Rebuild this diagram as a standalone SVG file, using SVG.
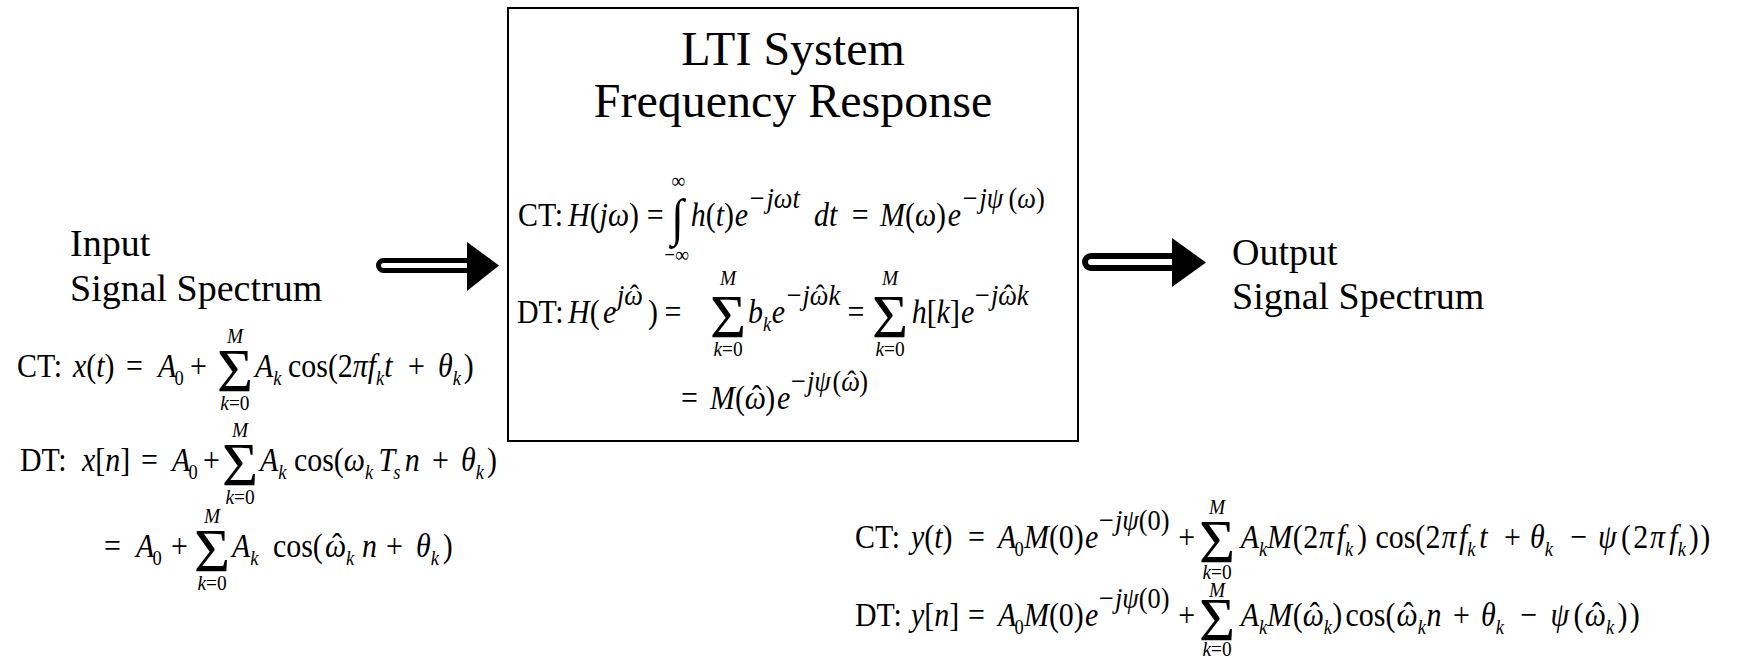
<svg xmlns="http://www.w3.org/2000/svg" width="1752" height="662" viewBox="0 0 1752 662">
<style>
text { font-family: "Liberation Serif", "Times New Roman", "DejaVu Serif", serif; fill: #000; }
.lbl { font-size: 38px; }
.ttl { font-size: 48px; text-anchor: middle; }
.eq { font-size: 34px; }
.i { font-style: italic; }
.s { font-size: 21px; }
.e { font-size: 30px; }
.sg { font-size: 62px; text-anchor: middle; }
.lim { font-size: 22px; text-anchor: middle; }
.int { font-size: 52px; text-anchor: middle; }
.hat { text-anchor: middle; }
.shaft { fill: #fff; stroke: #000; }
.head { fill: #000; }
</style>
<rect width="1752" height="662" fill="#fff"/>

<g id="connectors">
  <rect class="shaft" x="378.5" y="260.5" width="95" height="10" rx="5" stroke-width="5"/>
  <polygon class="head" points="467,242 499,265.5 467,291"/>
  <rect class="shaft" x="1085" y="256" width="95" height="12" rx="6" stroke-width="6"/>
  <polygon class="head" points="1172,238 1206,262.5 1172,287"/>
</g>

<g id="input">
  <text class="lbl" x="70" y="256">Input</text>
  <text class="lbl" x="70" y="301">Signal Spectrum</text>
  <g transform="scale(0.88 1)">
    <text class="eq" y="377"><tspan x="19.3" y="377">CT:</tspan><tspan x="83" y="377" class="i">x</tspan>(<tspan class="i">t</tspan>)<tspan x="143.2" y="377">=</tspan><tspan x="179.5" y="377" class="i">A</tspan><tspan class="s" dx="-2" dy="8">0</tspan><tspan x="215.9" y="377">+</tspan><tspan x="289.8" y="377" class="i">A</tspan><tspan class="s i" dy="8">k</tspan><tspan x="327.3" y="377">cos(2</tspan><tspan class="i">πf</tspan><tspan class="s i" dy="8">k</tspan><tspan class="i" dy="-8">t</tspan><tspan x="463.6" y="377">+</tspan><tspan x="497.7" y="377" class="i">θ</tspan><tspan class="s i" dy="8">k</tspan><tspan x="527" y="377">)</tspan></text>
    <text class="lim i" x="267" y="343">M</text>
    <text class="lim" x="267" y="410"><tspan class="i">k</tspan>=0</text>

    <text class="eq" y="471"><tspan x="22.7" y="471">DT:</tspan><tspan x="93.2" y="471" class="i">x</tspan>[<tspan class="i">n</tspan>]<tspan x="160.2" y="471">=</tspan><tspan x="195.5" y="471" class="i">A</tspan><tspan class="s" dx="-2" dy="8">0</tspan><tspan x="230.7" y="471">+</tspan><tspan x="295.5" y="471" class="i">A</tspan><tspan class="s i" dy="8">k</tspan><tspan x="334.1" y="471">cos(</tspan><tspan class="i">ω</tspan><tspan class="s i" dy="8">k</tspan><tspan x="430" y="471" class="i">T</tspan><tspan class="s i" dx="-2" dy="8">s</tspan><tspan x="460" y="471" class="i">n</tspan><tspan x="490.9" y="471">+</tspan><tspan x="523.9" y="471" class="i">θ</tspan><tspan class="s i" dy="8">k</tspan><tspan x="553.4" y="471">)</tspan></text>
    <text class="lim i" x="272.7" y="437">M</text>
    <text class="lim" x="272.7" y="504"><tspan class="i">k</tspan>=0</text>

    <text class="eq" y="557"><tspan x="118.2" y="557">=</tspan><tspan x="154.5" y="557" class="i">A</tspan><tspan class="s" dx="-2" dy="8">0</tspan><tspan x="194.3" y="557">+</tspan><tspan x="263.6" y="557" class="i">A</tspan><tspan class="s i" dy="8">k</tspan><tspan x="310.2" y="557">cos(</tspan><tspan x="369.3" y="557" class="i">ω</tspan><tspan class="s i" dy="8">k</tspan><tspan x="411.4" y="557" class="i">n</tspan><tspan x="438.6" y="557">+</tspan><tspan x="472.7" y="557" class="i">θ</tspan><tspan class="s i" dy="8">k</tspan><tspan x="503" y="557">)</tspan></text>
    <text class="eq hat" x="383" y="557">ˆ</text>
    <text class="lim i" x="240.9" y="523">M</text>
    <text class="lim" x="240.9" y="590"><tspan class="i">k</tspan>=0</text>
  </g>
  <text class="sg" x="235" y="391">Σ</text>
  <text class="sg" x="240" y="485">Σ</text>
  <text class="sg" x="212" y="571">Σ</text>
</g>

<g id="system">
  <rect x="508" y="8" width="570" height="433" fill="#fff" stroke="#000" stroke-width="2"/>
  <text class="ttl" x="793" y="65">LTI System</text>
  <text class="ttl" x="793" y="117">Frequency Response</text>
  <g transform="scale(0.88 1)">
    <text class="eq" y="226"><tspan x="588.6" y="226">CT:</tspan><tspan x="645.5" y="226" class="i">H</tspan>(<tspan class="i">jω</tspan>)<tspan x="735" y="226">=</tspan><tspan x="785" y="226" class="i">h</tspan>(<tspan class="i">t</tspan>)<tspan x="835" y="226" class="i">e</tspan><tspan x="852" y="208" class="e">−</tspan><tspan x="871" y="208" class="e i">jωt</tspan><tspan x="925" y="226" class="i">dt</tspan><tspan x="968" y="226">=</tspan><tspan x="1000" y="226" class="i">M</tspan>(<tspan class="i">ω</tspan>)<tspan x="1077" y="226" class="i">e</tspan><tspan x="1094" y="208" class="e">−</tspan><tspan x="1113" y="208" class="e i">jψ</tspan><tspan x="1146" y="208" class="e">(</tspan><tspan class="e i">ω</tspan><tspan class="e">)</tspan></text>
    <text class="int" x="770" y="235">∫</text>
    <text class="lim" x="771" y="188">∞</text>
    <text class="lim" x="769" y="262">−∞</text>

    <text class="eq" y="323"><tspan x="587.5" y="323">DT:</tspan><tspan x="645.5" y="323" class="i">H</tspan>(<tspan x="685.2" y="323" class="i">e</tspan><tspan x="701.1" y="305" class="e i">j</tspan><tspan x="709.4" y="305" class="e i">ω</tspan><tspan x="736.4" y="323">)</tspan><tspan x="755" y="323">=</tspan><tspan x="850" y="323" class="i">b</tspan><tspan class="s i" dy="8">k</tspan><tspan x="877" y="323" class="i">e</tspan><tspan x="894" y="305" class="e">−</tspan><tspan x="912" y="305" class="e i">j</tspan><tspan x="920.3" y="305" class="e i">ωk</tspan><tspan x="963" y="323">=</tspan><tspan x="1036" y="323" class="i">h</tspan>[<tspan class="i">k</tspan>]<tspan x="1092" y="323" class="i">e</tspan><tspan x="1108" y="305" class="e">−</tspan><tspan x="1126" y="305" class="e i">j</tspan><tspan x="1134.3" y="305" class="e i">ωk</tspan></text>
    <text class="e hat" x="721" y="305">ˆ</text>
    <text class="e hat" x="932" y="305">ˆ</text>
    <text class="e hat" x="1146" y="305">ˆ</text>
    <text class="lim i" x="827.3" y="285">M</text>
    <text class="lim" x="827.3" y="356"><tspan class="i">k</tspan>=0</text>
    <text class="lim i" x="1011.4" y="285">M</text>
    <text class="lim" x="1011.4" y="356"><tspan class="i">k</tspan>=0</text>

    <text class="eq" y="409"><tspan x="773.9" y="409">=</tspan><tspan x="806.8" y="409" class="i">M</tspan>(<tspan x="846.4" y="409" class="i">ω</tspan><tspan x="869.5" y="409">)</tspan><tspan x="883" y="409" class="i">e</tspan><tspan x="898.9" y="391" class="e">−</tspan><tspan x="917" y="391" class="e i">jψ</tspan><tspan x="946" y="391" class="e">(</tspan><tspan x="956" y="391" class="e i">ω</tspan><tspan x="976.4" y="391" class="e">)</tspan></text>
    <text class="eq hat" x="860" y="409">ˆ</text>
    <text class="e hat" x="967.7" y="391">ˆ</text>
  </g>
  <text class="sg" x="728" y="337">Σ</text>
  <text class="sg" x="890" y="337">Σ</text>
</g>

<g id="output">
  <text class="lbl" x="1232" y="265">Output</text>
  <text class="lbl" x="1232" y="309">Signal Spectrum</text>
  <g transform="scale(0.88 1)">
    <text class="eq" y="548"><tspan x="971.6" y="548">CT:</tspan><tspan x="1035.2" y="548" class="i">y</tspan>(<tspan class="i">t</tspan>)<tspan x="1100" y="548">=</tspan><tspan x="1134.1" y="548" class="i">A</tspan><tspan class="s" dx="-2" dy="8">0</tspan><tspan x="1163.6" y="548" class="i">M</tspan>(0)<tspan x="1233" y="548" class="i">e</tspan><tspan x="1249" y="530" class="e">−</tspan><tspan x="1267" y="530" class="e i">jψ</tspan><tspan class="e">(0)</tspan><tspan x="1339" y="548">+</tspan><tspan x="1410" y="548" class="i">A</tspan><tspan class="s i" dy="8">k</tspan><tspan x="1440" y="548" class="i">M</tspan><tspan x="1469" y="548">(</tspan><tspan x="1481" y="548">2</tspan><tspan x="1499" y="548" class="i">π</tspan><tspan x="1519" y="548" class="i">f</tspan><tspan class="s i" dy="8">k</tspan><tspan x="1542" y="548">)</tspan><tspan x="1563" y="548">cos(</tspan><tspan x="1620" y="548">2</tspan><tspan x="1638" y="548" class="i">π</tspan><tspan x="1658" y="548" class="i">f</tspan><tspan class="s i" dy="8">k</tspan><tspan x="1681" y="548" class="i">t</tspan><tspan x="1709.1" y="548">+</tspan><tspan x="1738.6" y="548" class="i">θ</tspan><tspan class="s i" dy="8">k</tspan><tspan x="1784.1" y="548">−</tspan><tspan x="1815.9" y="548" class="i">ψ</tspan><tspan x="1842" y="548">(</tspan><tspan x="1856" y="548">2</tspan><tspan x="1875" y="548" class="i">π</tspan><tspan x="1897" y="548" class="i">f</tspan><tspan class="s i" dy="8">k</tspan><tspan x="1919" y="548">)</tspan><tspan x="1932" y="548">)</tspan></text>
    <text class="lim i" x="1383" y="514">M</text>
    <text class="lim" x="1383" y="579"><tspan class="i">k</tspan>=0</text>

    <text class="eq" y="626"><tspan x="971.6" y="626">DT:</tspan><tspan x="1035.2" y="626" class="i">y</tspan>[<tspan class="i">n</tspan>]<tspan x="1100" y="626">=</tspan><tspan x="1134.1" y="626" class="i">A</tspan><tspan class="s" dx="-2" dy="8">0</tspan><tspan x="1163.6" y="626" class="i">M</tspan>(0)<tspan x="1233" y="626" class="i">e</tspan><tspan x="1249" y="608" class="e">−</tspan><tspan x="1267" y="608" class="e i">jψ</tspan><tspan class="e">(0)</tspan><tspan x="1339" y="626">+</tspan><tspan x="1410" y="626" class="i">A</tspan><tspan class="s i" dy="8">k</tspan><tspan x="1440" y="626" class="i">M</tspan><tspan x="1469" y="626">(</tspan><tspan x="1480.3" y="626" class="i">ω</tspan><tspan class="s i" dy="8">k</tspan><tspan x="1514" y="626">)</tspan><tspan x="1529" y="626">cos(</tspan><tspan x="1587" y="626" class="i">ω</tspan><tspan class="s i" dy="8">k</tspan><tspan x="1621" y="626" class="i">n</tspan><tspan x="1651.1" y="626">+</tspan><tspan x="1683" y="626" class="i">θ</tspan><tspan class="s i" dy="8">k</tspan><tspan x="1727.3" y="626">−</tspan><tspan x="1762" y="626" class="i">ψ</tspan><tspan x="1788" y="626">(</tspan><tspan x="1801" y="626" class="i">ω</tspan><tspan class="s i" dy="8">k</tspan><tspan x="1838" y="626">)</tspan><tspan x="1852" y="626">)</tspan></text>
    <text class="eq hat" x="1494" y="626">ˆ</text>
    <text class="eq hat" x="1600.7" y="626">ˆ</text>
    <text class="eq hat" x="1814.7" y="626">ˆ</text>
    <text class="lim i" x="1383" y="597">M</text>
    <text class="lim" x="1383" y="656"><tspan class="i">k</tspan>=0</text>
  </g>
  <text class="sg" x="1217" y="562">Σ</text>
  <text class="sg" x="1217" y="640">Σ</text>
</g>
</svg>
